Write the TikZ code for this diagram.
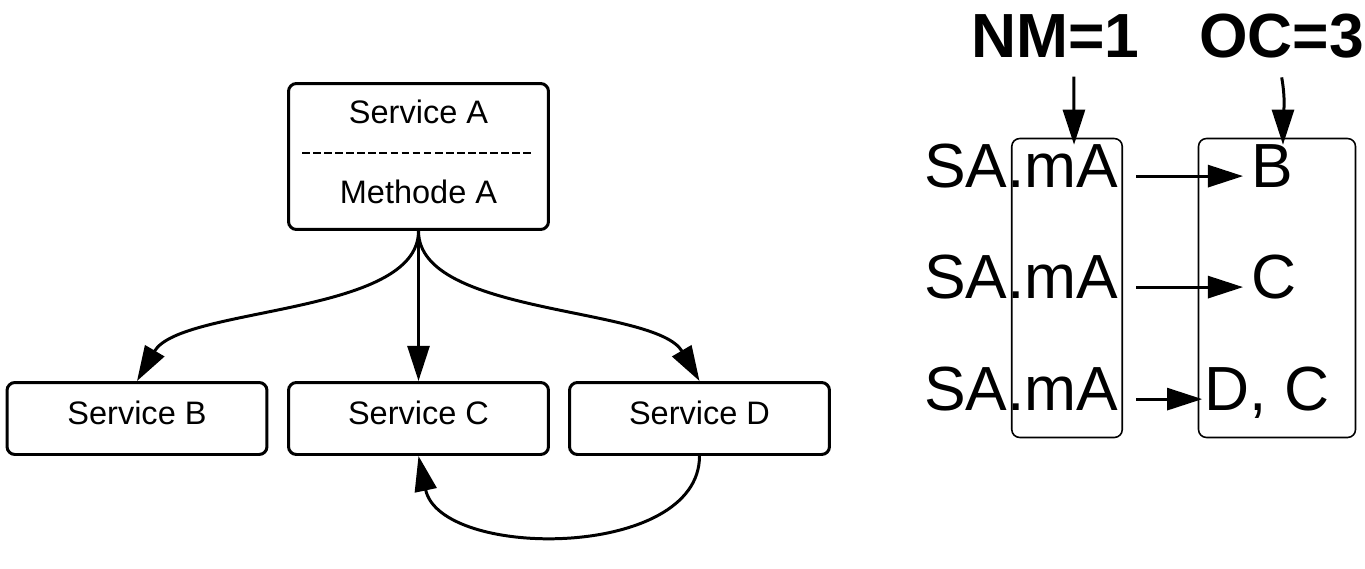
\documentclass[tikz,border=0pt]{standalone}
\usepackage{fontspec}
\setmainfont{Liberation Sans}
\usetikzlibrary{arrows.meta}

\begin{document}
\begin{tikzpicture}[x=0.02cm,y=-0.02cm,
  service/.style={draw,line width=1.7pt,rounded corners=4.5pt,minimum width=5.2cm,minimum height=1.44cm,
    inner sep=0pt,text height=13.5pt,text depth=6.8pt,font=\fontsize{18.5}{22}\selectfont},
  svctext/.style={inner sep=0pt,font=\fontsize{18.5}{22}\selectfont},
  call/.style={line width=1.7pt,-{Triangle[length=20pt,width=12.5pt]}},
  column/.style={draw,line width=0.9pt,rounded corners=4.5pt,inner sep=0pt,minimum height=5.98cm},
  entry/.style={anchor=base west,inner sep=0pt,font=\fontsize{35.5}{40}\selectfont},
  counter/.style={anchor=base west,inner sep=0pt,font=\bfseries\fontsize{35.5}{40}\selectfont}]

% fix the page size
\useasboundingbox (0,0) rectangle (1365,568);

% service A with its method
\node[service,minimum height=2.92cm] (svcA) at (418.5,156.5) {};
\node[svctext] (nameA) at (418.5,112) {Service A};
\node[svctext] (methodA) at (418.5,192) {Methode A};
\draw[line width=1.6pt,dash pattern=on 4.4pt off 1.9pt] (302,153) -- (533,153);

% called services
\node[service] (svcB) at (137,418.5) {Service B};
\node[service] (svcC) at (418.5,418.5) {Service C};
\node[service] (svcD) at (699.5,418.5) {Service D};

% calls from method A
\draw[call] (svcA.south) .. controls +(0,85) and +(44,-75) .. (svcB.north);
\draw[call] (svcA.south) -- (svcC.north);
\draw[call] (svcA.south) .. controls +(0,85) and +(-44,-75) .. (svcD.north);
% D calls C again
\draw[call] (svcD.south) .. controls +(0,104) and +(22,104) .. (svcC.south);

% columns
\node[column,minimum width=2.21cm] (colNM) at (1067,288) {};
\node[column,minimum width=3.14cm] (colOC) at (1277,288) {};

% rows of calls and their targets
\foreach \row/\y in {1/187,2/298,3/410}
  \node[entry] (sa\row) at (924,\y) {SA.mA};
\node[entry] (tgtB) at (1251,187) {B};
\node[entry] (tgtC) at (1251,298) {C};
\node[entry] (tgtDC) at (1204,410) {D, C};

% headers
\node[counter] (nm) at (971,57) {NM=1};
\node[counter] (oc) at (1199,57) {OC=3};

% arrows
\foreach \row/\tgt in {1/tgtB,2/tgtC}
  \draw[call] ([xshift=10pt,yshift=6.2pt]sa\row.base east) -- ([xshift=-4.5pt,yshift=6.2pt]\tgt.base west);
\draw[call] ([xshift=10pt,yshift=6.2pt]sa3.base east) -- ([xshift=-1pt,yshift=6.2pt]tgtDC.base west);
\draw[call] ([xshift=10.5pt,yshift=-11pt]nm.south) -- ([xshift=4pt,yshift=-4pt]colNM.north);
\draw[call] ([yshift=-11pt]oc.south) to[out=-80,in=90] ([xshift=3.4pt,yshift=-4pt]colOC.north);

\end{tikzpicture}
\end{document}
